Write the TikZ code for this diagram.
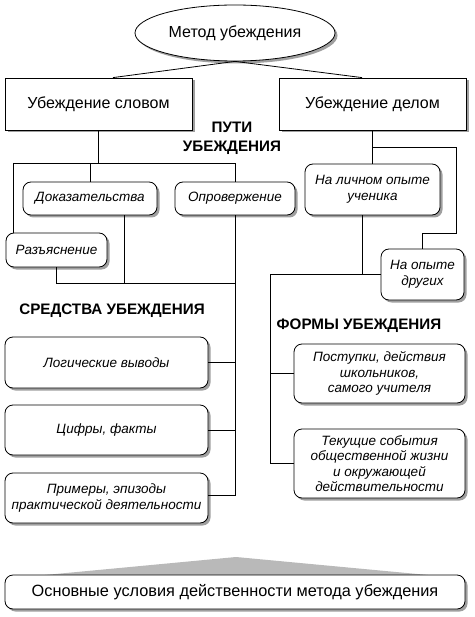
\documentclass[tikz,border=0pt]{standalone}
\usepackage{fontspec}
\setmainfont{Liberation Sans}
\usetikzlibrary{shapes.geometric,shadows}
\tikzset{
  shd/.style={drop shadow={shadow xshift=2.5pt,shadow yshift=-2.5pt,fill=gray!75,opacity=1}},
  ell/.style={ellipse,draw,fill=white,shd,line width=0.8pt,font=\fontsize{16}{18}\selectfont,inner sep=0pt},
  hbox/.style={rectangle,draw,fill=white,shd,line width=0.8pt,font=\fontsize{16}{18}\selectfont,inner sep=0pt},
  rbox/.style={rectangle,rounded corners=8pt,draw,fill=white,shd,line width=0.8pt,font=\fontsize{13.5}{15.5}\selectfont\itshape,align=center,inner sep=0pt},
  ttl/.style={font=\fontsize{15.2}{19}\selectfont\bfseries,align=center,inner sep=0pt},
  ln/.style={line width=0.8pt}
}
\begin{document}
\begin{tikzpicture}[x=1pt,y=-1pt]
\useasboundingbox (0,0) rectangle (474,617);
% top
\node[ell,minimum width=200pt,minimum height=56pt] (meth) at (235,33) {Метод убеждения};
\node[hbox,minimum width=187pt,minimum height=52pt] (word) at (98.5,104) {Убеждение словом};
\node[hbox,minimum width=187pt,minimum height=52pt] (deed) at (372.5,104) {Убеждение делом};
\draw[ln] (meth.south) -- ([xshift=14.5pt]word.north);
\draw[ln] (meth.south) -- ([xshift=-10.5pt]deed.north);
\node[ttl] (puti) at (232,138) {ПУТИ\\УБЕЖДЕНИЯ};
% left ways
\node[rbox,minimum width=134pt,minimum height=33pt] (dok) at (90,198.5) {Доказательства};
\node[rbox,minimum width=120pt,minimum height=33pt] (opr) at (235,198.5) {Опровержение};
\node[rbox,minimum width=101pt,minimum height=34pt] (raz) at (56.5,250) {Разъяснение};
\coordinate (lt) at (13,163);
\coordinate (rt) at (235,163);
\draw[ln] (word.south) -- (word.south |- lt);
\draw[ln] (lt) -- (rt);
\draw[ln] (lt) -- (lt |- raz.north);
\draw[ln] (dok.north) -- (dok.north |- lt);
\draw[ln] (opr.north) -- (rt);
\coordinate (hb) at (235,283);
\draw[ln] (raz.south) -- (raz.south |- hb) -- (hb);
\draw[ln] ([xshift=34pt]dok.south) -- ([xshift=34pt]dok.south |- hb);
% means
\node[ttl] (sred) at (112,311) {СРЕДСТВА УБЕЖДЕНИЯ};
\node[rbox,minimum width=203pt,minimum height=51pt] (log) at (106.5,362.5) {Логические выводы};
\node[rbox,minimum width=203pt,minimum height=50pt] (cif) at (106.5,430) {Цифры, факты};
\node[rbox,minimum width=203pt,minimum height=50pt] (prim) at (106.5,498) {Примеры, эпизоды\\практической деятельности};
\coordinate (vb) at (235,495);
\draw[ln] (opr.south) -- (vb) -- (vb -| prim.east);
\draw[ln] (log.east) -- (log.east -| vb);
\draw[ln] (cif.east) -- (cif.east -| vb);
% right ways
\node[rbox,minimum width=135pt,minimum height=51pt] (lich) at (372.5,189.5) {На личном опыте\\ученика};
\node[rbox,minimum width=83pt,minimum height=51pt] (dr) at (422.5,274.5) {На опыте\\других};
\draw[ln] (deed.south) -- (lich.north);
\coordinate (r1) at (372.5,147);
\coordinate (r2) at (456,147);
\coordinate (r3) at (456,233);
\draw[ln] (r1) -- (r2) -- (r3) -- (r3 -| dr.north) -- (dr.north);
\coordinate (fl) at (270,274.5);
\draw[ln] ([xshift=-10pt]lich.south) -- ([xshift=-10pt]lich.south |- fl);
\draw[ln] (fl) -- (dr.west);
% forms
\node[ttl] (form) at (359,326) {ФОРМЫ УБЕЖДЕНИЯ};
\node[rbox,minimum width=171pt,minimum height=59pt] (post) at (379.5,373.5) {Поступки, действия\\школьников,\\самого учителя};
\node[rbox,minimum width=171pt,minimum height=69pt] (tek) at (379.5,463.5) {Текущие события\\общественной жизни\\и окружающей\\действительности};
\draw[ln] (fl) -- (fl |- tek.west) -- (tek.west);
\draw[ln] (post.west) -- (post.west -| fl);
% bottom
\coordinate (ta) at (236,557);
\coordinate (tl) at (45,575);
\coordinate (tr) at (428,575);
\fill[gray!55] (tl) -- (ta) -- (tr) -- cycle;
\node[rbox,font=\fontsize{16.3}{19}\selectfont,minimum width=460pt,minimum height=34pt] (osn) at (235,592) {Основные условия действенности метода убеждения};
\end{tikzpicture}
\end{document}
